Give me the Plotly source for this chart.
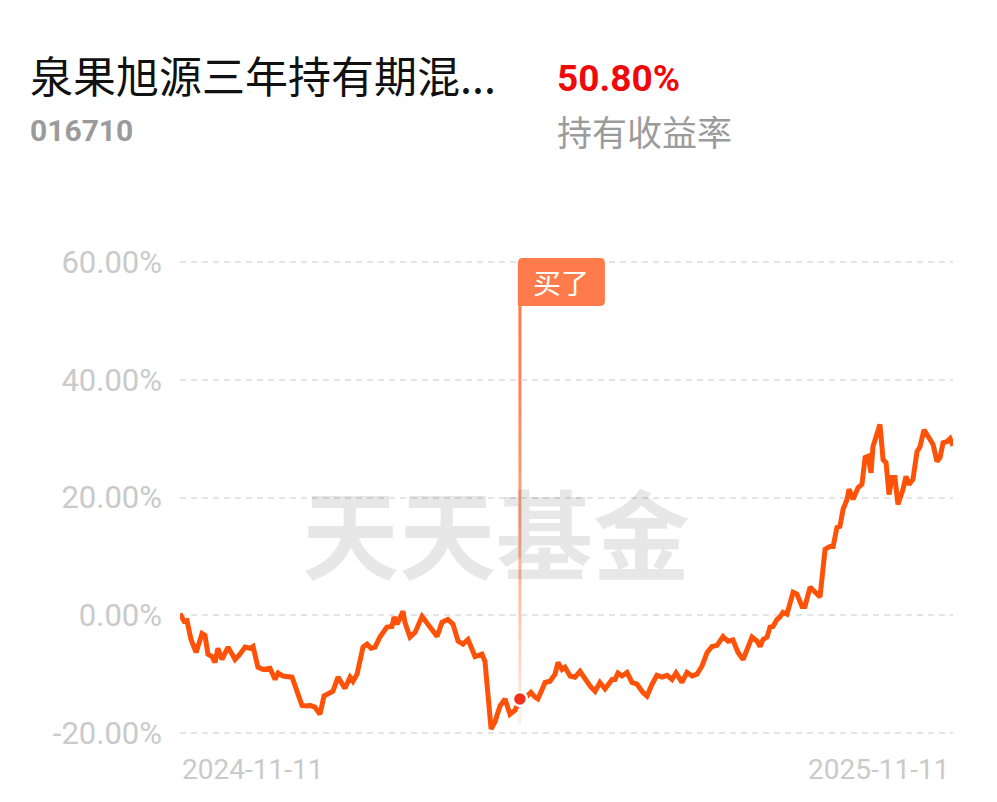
import pandas as pd
import plotly.graph_objects as go

# fund header
fund_name = "泉果旭源三年持有期混..."
fund_code = "016710"
hold_return = "50.80%"
hold_label = "持有收益率"

start_date = "2024-11-11"
end_date = "2025-11-11"

# days since start, cumulative return in %
day_offsets = [
    0, 1.9, 3.3, 5.2, 7.6, 10.4, 11.8, 13.2, 15.1, 16.5,
    17.9, 19.8, 22.7, 26.0, 28.3, 30.7, 33.1, 34.5, 36.8, 39.2,
    42.5, 44.9, 46.3, 48.6, 52.9, 57.6, 60.0, 61.4, 63.7, 66.1,
    68.0, 69.9, 72.2, 74.6, 77.9, 80.3, 81.7, 83.6, 86.4, 88.3,
    90.2, 92.1, 94.4, 97.7, 100.1, 101.1, 102.5, 105.3, 106.2, 108.6,
    111.0, 114.3, 118.1, 121.4, 123.7, 126.5, 128.9, 131.3, 133.6, 136.0,
    139.3, 142.6, 144.0, 146.9, 148.7, 151.1, 153.5, 155.8, 158.2, 160.5,
    163.9, 165.7, 167.6, 169.0, 172.4, 174.7, 177.1, 178.5, 180.4, 181.8,
    184.2, 186.5, 188.9, 191.2, 193.6, 196.0, 198.3, 200.7, 204.0, 205.4,
    206.8, 208.7, 211.1, 213.4, 215.8, 218.6, 220.5, 222.9, 225.2, 227.6,
    230.0, 232.3, 234.2, 237.0, 239.4, 241.8, 244.1, 246.5, 248.9, 251.2,
    253.6, 256.4, 258.8, 261.1, 263.5, 265.9, 268.2, 270.1, 272.5, 273.9,
    275.3, 277.2, 278.6, 280.0, 281.9, 283.3, 284.7, 286.6, 289.5, 291.3,
    293.7, 295.1, 297.5, 299.8, 302.2, 304.6, 306.9, 308.4, 310.2, 311.6,
    313.1, 315.0, 315.9, 317.8, 320.2, 322.0, 323.5, 324.9, 326.3, 327.2,
    328.7, 330.5, 332.0, 333.4, 334.8, 336.2, 337.6, 339.0, 341.4, 342.8,
    344.2, 346.1, 348.0, 349.4, 351.3, 353.2, 355.6, 357.4, 358.9, 360.3,
    362.2, 363.6, 365.0,
]
returns_pct = [
    0.3, -1.0, -0.9, -4.1, -6.3, -3.1, -3.4, -6.6, -7.0, -8.0,
    -5.6, -7.5, -5.4, -7.5, -6.6, -5.4, -5.6, -5.3, -8.8, -9.2,
    -9.0, -10.9, -9.8, -10.3, -10.5, -15.3, -15.4, -15.3, -15.6, -16.8,
    -13.7, -13.4, -12.9, -10.5, -12.4, -10.5, -11.2, -10.0, -5.4, -4.9,
    -5.6, -5.4, -3.7, -2.0, -1.9, -0.3, -1.5, 0.7, -1.2, -3.7,
    -2.9, -0.2, -1.9, -3.6, -1.2, -0.7, -1.5, -4.4, -4.9, -4.1,
    -7.0, -6.6, -7.8, -19.3, -18.1, -15.4, -14.2, -16.8, -16.1, -14.2,
    -13.7, -13.1, -13.9, -14.2, -11.4, -11.2, -10.0, -8.0, -9.2, -8.8,
    -10.3, -10.5, -9.5, -10.9, -12.0, -12.9, -11.4, -12.5, -10.9, -10.9,
    -9.8, -10.3, -9.7, -11.4, -11.7, -13.1, -13.7, -11.7, -10.2, -10.5,
    -10.2, -10.9, -9.8, -11.4, -9.7, -10.3, -10.0, -8.6, -6.3, -5.3,
    -5.1, -3.6, -4.4, -4.2, -6.3, -7.5, -5.3, -3.7, -4.4, -5.3,
    -4.1, -3.7, -2.0, -1.9, -0.7, -0.3, 0.5, 0.2, 3.9, 3.6,
    1.5, 1.5, 4.8, 4.1, 3.1, 11.2, 11.7, 11.7, 14.9, 15.1,
    18.0, 19.7, 21.4, 19.7, 21.7, 22.2, 26.8, 27.0, 24.2, 28.6,
    30.2, 32.4, 26.4, 25.9, 20.5, 23.4, 23.4, 18.8, 21.4, 23.6,
    22.2, 23.1, 27.8, 28.6, 31.5, 30.3, 29.0, 26.1, 26.8, 29.3,
    29.5, 30.0, 28.8,
]

buy_index = 69
buy_label = "买了"
watermark = "天天基金"

y_ticks = [-20, 0, 20, 40, 60]
y_tick_text = ["-20.00%", "0.00%", "20.00%", "40.00%", "60.00%"]

dates = pd.Timestamp(start_date) + pd.to_timedelta(day_offsets, unit="D")
buy_date = dates[buy_index]
buy_value = returns_pct[buy_index]

LINE = "#ff5209"
FLAG = "#ff7b4b"
GRID = "#e4e4e4"
AXIS_TXT = "#cacaca"
CJK = "Noto Sans CJK SC"

fig = go.Figure()
fig.add_trace(go.Scatter(x=dates, y=returns_pct, mode="lines",
                         line=dict(color=LINE, width=5), hoverinfo="skip"))
fig.add_trace(go.Scatter(x=[buy_date], y=[buy_value], mode="markers",
                         marker=dict(color="#f0321c", size=14, line=dict(color="white", width=2.5)),
                         hoverinfo="skip"))

# fading pole under the flag
pole_top, pole_bottom, steps = 52.5, -18.5, 30
shapes = []
for i in range(steps):
    y0 = pole_top - (pole_top - pole_bottom) * i / steps
    y1 = pole_top - (pole_top - pole_bottom) * (i + 1) / steps
    op = 1.0 - 0.88 * (i / (steps - 1)) ** 1.5
    shapes.append(dict(type="line", xref="x", yref="y", x0=buy_date, x1=buy_date, y0=y0, y1=y1,
                       line=dict(color=FLAG, width=3), opacity=op, layer="below"))

# flag with rounded corners, pixel-sized around the buy date / 60% line
shapes.append(dict(type="path", xref="x", yref="y", xsizemode="pixel", ysizemode="pixel",
                   xanchor=buy_date, yanchor=60,
                   path="M -2,-44 L -2,-1 Q -2,4 3,4 L 80,4 Q 85,4 85,-1 L 85,-39 Q 85,-44 80,-44 Z",
                   fillcolor=FLAG, line=dict(width=0), layer="above"))

annotations = [
    dict(text=buy_label, x=buy_date, y=60, xref="x", yref="y", showarrow=False,
         xanchor="center", yanchor="middle", xshift=41, yshift=-20,
         font=dict(family=CJK, size=28, color="white")),
    dict(text=watermark, x=0.409, y=0.433, xref="paper", yref="paper", showarrow=False,
         font=dict(family=CJK, size=97, color="rgba(0,0,0,0.095)", weight="bold")),
    dict(text=fund_name, x=-0.1966, y=1.377, xref="paper", yref="paper", showarrow=False,
         xanchor="left", yanchor="middle", font=dict(family=CJK, size=43, color="#111111")),
    dict(text=hold_return, x=0.4851, y=1.3665, xref="paper", yref="paper", showarrow=False,
         xanchor="left", yanchor="middle",
         font=dict(family="Roboto", size=37, color="#ee0a0a", weight="bold")),
    dict(text=fund_code, x=-0.1966, y=1.2588, xref="paper", yref="paper", showarrow=False,
         xanchor="left", yanchor="middle",
         font=dict(family="Roboto", size=30, color="#9b9b9b", weight="bold")),
    dict(text=hold_label, x=0.4851, y=1.259, xref="paper", yref="paper", showarrow=False,
         xanchor="left", yanchor="middle", font=dict(family=CJK, size=35, color="#9b9b9b")),
    dict(text=start_date, x=start_date, y=0, xref="x", yref="paper", showarrow=False,
         xanchor="left", yanchor="top", yshift=-12,
         font=dict(family="Roboto", size=28, color=AXIS_TXT)),
    dict(text=end_date, x=end_date, y=0, xref="x", yref="paper", showarrow=False,
         xanchor="right", yanchor="top", yshift=-12, xshift=-2,
         font=dict(family="Roboto", size=28, color=AXIS_TXT)),
]

# the page body has an 8px margin, so the plot box is nudged up-left by it
fig.update_layout(
    width=997, height=802, autosize=False,
    margin=dict(l=172, r=52, t=248, b=71),
    paper_bgcolor="white", plot_bgcolor="white",
    showlegend=False,
    shapes=shapes, annotations=annotations,
)
fig.update_xaxes(range=[start_date, end_date], showgrid=False, zeroline=False,
                 showticklabels=False, showline=False)
fig.update_yaxes(range=[-21, 61], tickvals=y_ticks, ticktext=y_tick_text,
                 showgrid=True, gridcolor=GRID, gridwidth=2, griddash="6px,5px",
                 zeroline=False, showline=False, ticklabelstandoff=17,
                 tickfont=dict(family="Roboto", size=31, color=AXIS_TXT))

fig.write_html("out.html")
